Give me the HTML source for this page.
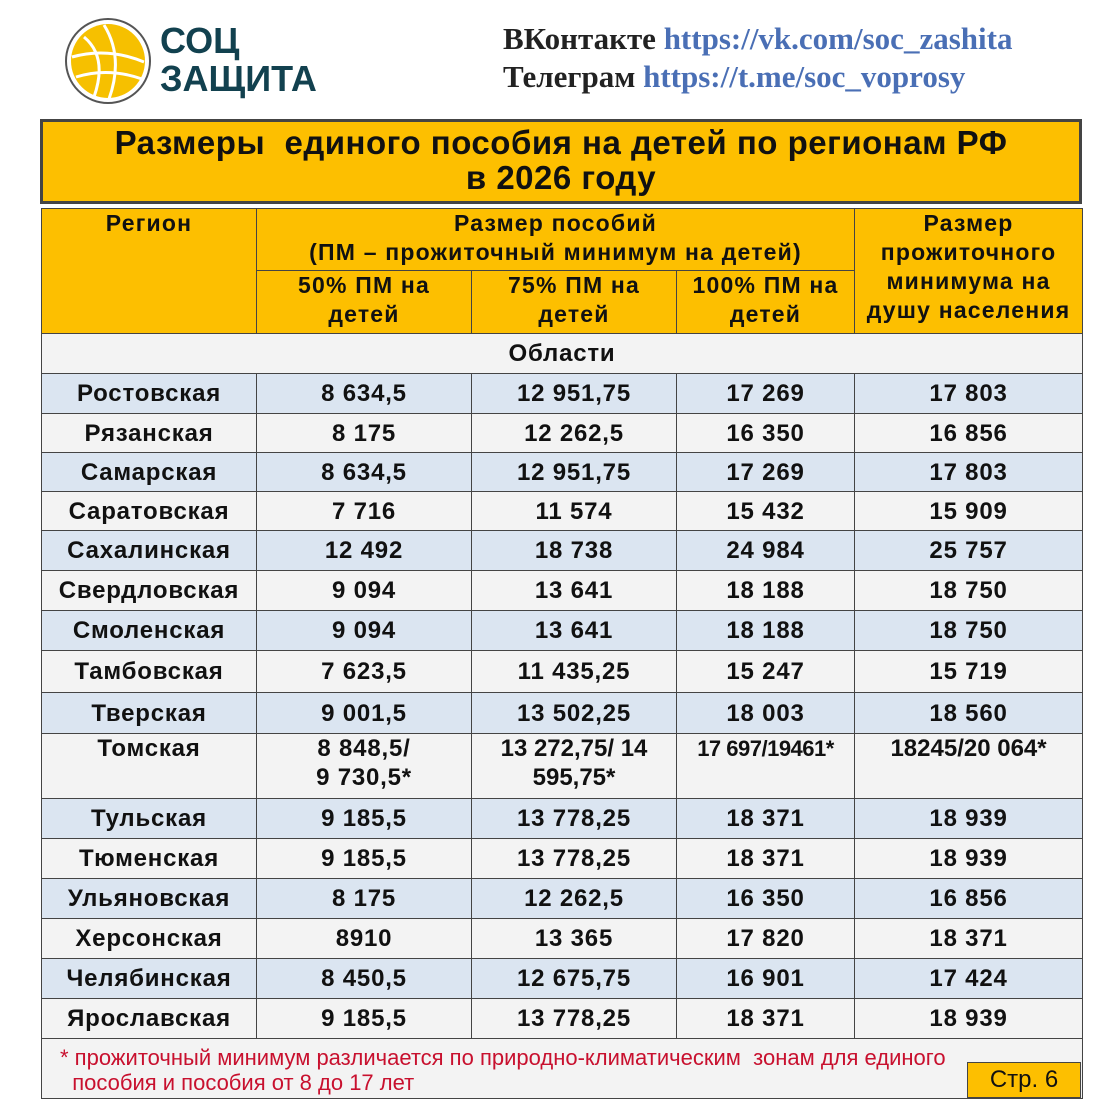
<!DOCTYPE html>
<html><head><meta charset="utf-8"><style>
body{margin:0;width:1096px;height:1096px;background:#fff;position:relative;overflow:hidden;font-family:"Liberation Sans","DejaVu Sans",sans-serif}
.a{position:absolute}
table{position:absolute;left:41px;top:208px;border-collapse:collapse;table-layout:fixed;width:1041px}
td{border:1.5px solid #444;text-align:center;font-weight:bold;font-size:24px;letter-spacing:0.8px;color:#111;padding:0;line-height:29px;white-space:nowrap}
.h td{background:#fdbf00;vertical-align:top;font-size:23px;letter-spacing:1.2px;line-height:29px}
.b td{background:#dbe5f1}
.w td{background:#f3f3f3}
</style></head><body>
<svg class="a" style="left:64px;top:17px" width="88" height="88" viewBox="0 0 88 88">
<circle cx="44" cy="44" r="42" fill="#fff" stroke="#555" stroke-width="2"/>
<circle cx="44" cy="44" r="37" fill="#f6c000"/>
<path d="M20 20 Q44 40 30 80 M40 8 Q60 40 45 82 M8 40 Q44 30 80 45 M12 60 Q44 50 78 62" stroke="#fff" stroke-width="3" fill="none"/>
</svg>
<div class="a" style="left:160px;top:22px;font-size:36px;font-weight:bold;color:#12414f;line-height:38px">СОЦ<br>ЗАЩИТА</div>
<div class="a" style="left:503px;top:20px;font-family:'Liberation Serif',serif;font-weight:bold;font-size:31px;line-height:38px;color:#222;white-space:nowrap">ВКонтакте <span style="color:#4a6fb5">https://vk.com/soc_zashita</span><br>Телеграм <span style="color:#4a6fb5">https://t.me/soc_voprosy</span></div>
<div class="a" style="left:40px;top:119px;width:1036px;height:76px;background:#fdbf00;border:3px solid #444;text-align:center;font-weight:bold;font-size:33px;line-height:35px;color:#111;padding-top:3px;letter-spacing:0.5px">Размеры&nbsp; единого пособия на детей по регионам РФ<br>в 2026 году</div>
<table>
<colgroup><col style="width:215px"><col style="width:215px"><col style="width:205px"><col style="width:178px"><col style="width:228px"></colgroup>
<tr class="h" style="height:62px"><td rowspan="2">Регион</td><td colspan="3">Размер пособий<br>(ПМ – прожиточный минимум на детей)</td><td rowspan="2">Размер<br>прожиточного<br>минимума на<br>душу населения</td></tr>
<tr class="h" style="height:63px"><td>50% ПМ на<br>детей</td><td>75% ПМ на<br>детей</td><td>100% ПМ на<br>детей</td></tr>
<tr class="w" style="height:40px"><td colspan="5">Области</td></tr>
<tr class="b" style="height:40px"><td>Ростовская</td><td>8 634,5</td><td>12 951,75</td><td>17 269</td><td>17 803</td></tr>
<tr class="w" style="height:39px"><td>Рязанская</td><td>8 175</td><td>12 262,5</td><td>16 350</td><td>16 856</td></tr>
<tr class="b" style="height:39px"><td>Самарская</td><td>8 634,5</td><td>12 951,75</td><td>17 269</td><td>17 803</td></tr>
<tr class="w" style="height:39px"><td>Саратовская</td><td>7 716</td><td>11 574</td><td>15 432</td><td>15 909</td></tr>
<tr class="b" style="height:40px"><td>Сахалинская</td><td>12 492</td><td>18 738</td><td>24 984</td><td>25 757</td></tr>
<tr class="w" style="height:40px"><td>Свердловская</td><td>9 094</td><td>13 641</td><td>18 188</td><td>18 750</td></tr>
<tr class="b" style="height:40px"><td>Смоленская</td><td>9 094</td><td>13 641</td><td>18 188</td><td>18 750</td></tr>
<tr class="w" style="height:42px"><td>Тамбовская</td><td>7 623,5</td><td>11 435,25</td><td>15 247</td><td>15 719</td></tr>
<tr class="b" style="height:41px"><td>Тверская</td><td>9 001,5</td><td>13 502,25</td><td>18 003</td><td>18 560</td></tr>
<tr class="w" style="height:65px"><td style="vertical-align:top">Томская</td><td style="vertical-align:top">8 848,5/<br>9 730,5*</td><td style="vertical-align:top;letter-spacing:0">13 272,75/ 14<br>595,75*</td><td style="vertical-align:top;letter-spacing:-0.5px;font-size:22px">17 697/19461*</td><td style="vertical-align:top;letter-spacing:0">18245/20 064*</td></tr>
<tr class="b" style="height:40px"><td>Тульская</td><td>9 185,5</td><td>13 778,25</td><td>18 371</td><td>18 939</td></tr>
<tr class="w" style="height:40px"><td>Тюменская</td><td>9 185,5</td><td>13 778,25</td><td>18 371</td><td>18 939</td></tr>
<tr class="b" style="height:40px"><td>Ульяновская</td><td>8 175</td><td>12 262,5</td><td>16 350</td><td>16 856</td></tr>
<tr class="w" style="height:40px"><td>Херсонская</td><td>8910</td><td>13 365</td><td>17 820</td><td>18 371</td></tr>
<tr class="b" style="height:40px"><td>Челябинская</td><td>8 450,5</td><td>12 675,75</td><td>16 901</td><td>17 424</td></tr>
<tr class="w" style="height:40px"><td>Ярославская</td><td>9 185,5</td><td>13 778,25</td><td>18 371</td><td>18 939</td></tr>
<tr class="w" style="height:60px"><td colspan="5" style="text-align:left;vertical-align:top;font-weight:normal;color:#c8102e;font-size:22px;letter-spacing:0;line-height:25px;padding:6px 0 0 18px">* прожиточный минимум различается по природно-климатическим&nbsp; зонам для единого<br>&nbsp;&nbsp;пособия и пособия от 8 до 17 лет</td></tr>
</table>
<div class="a" style="left:967px;top:1062px;width:112px;height:34px;background:#fdbf00;border:1px solid #444;font-size:24px;text-align:center;line-height:34px;color:#111">Стр. 6</div>
</body></html>
